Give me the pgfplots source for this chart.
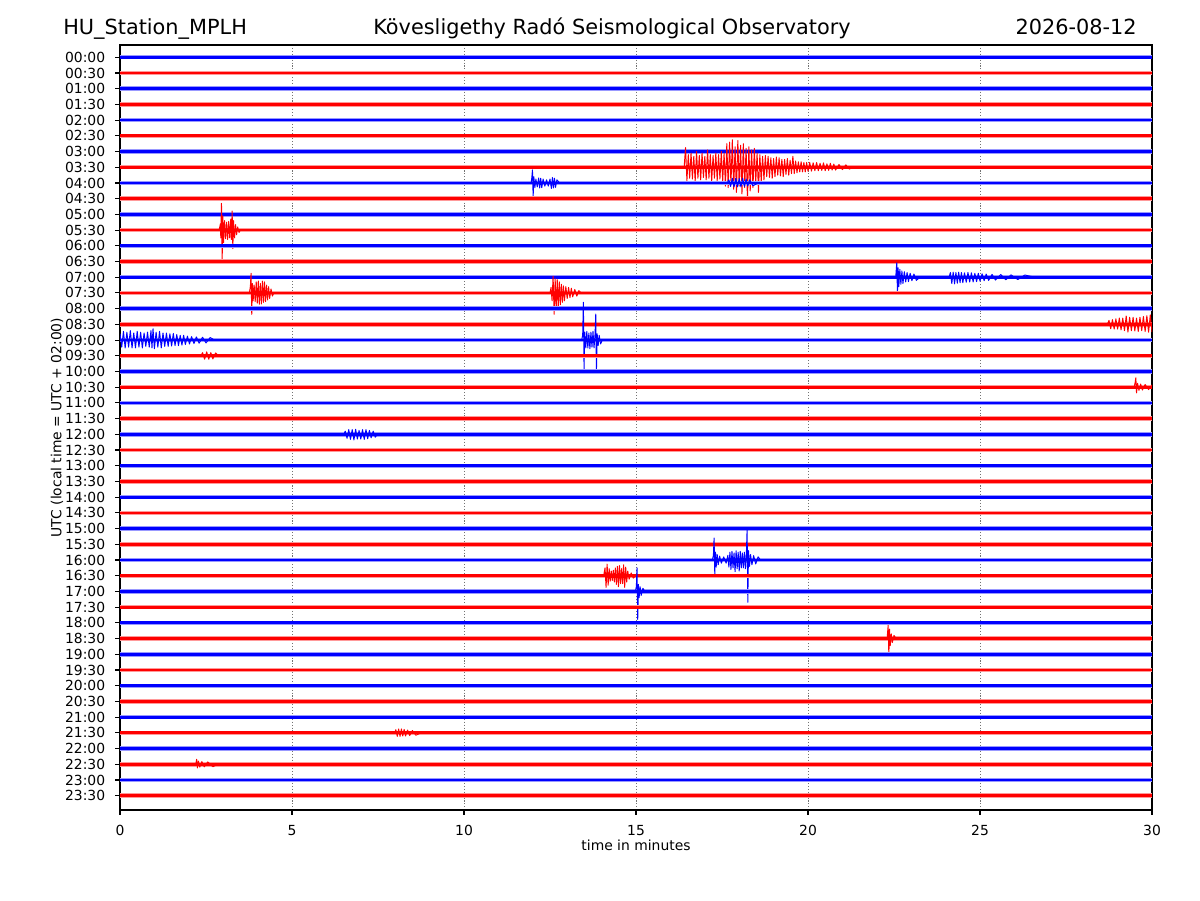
\documentclass[border=0pt]{standalone}
\usepackage{fontspec}
\setmainfont{DejaVu Sans}
\usepackage{pgfplots}
\pgfplotsset{compat=1.18}
\newcommand{\tk}{\fontsize{10}{12}\selectfont}
\newcommand{\h}[1]{\mbox{\tk #1}}
\newcommand{\ttl}{\fontsize{15}{18}\selectfont}
\pgfplotsset{
  blb/.style={blue, line width=2.0pt, preaction={draw=blue!40, line width=3.2pt}},
  blr/.style={red, line width=2.0pt, preaction={draw=red!40, line width=3.2pt}},
  ev/.style={line width=0.7pt, line join=round},
}
\begin{document}
\begin{tikzpicture}
\path[use as bounding box] (0,0) rectangle (864pt,648pt);
\node[anchor=base west, inner sep=0pt] at (45.36pt,622.8pt) {\ttl HU\_Station\_MPLH};
\node[anchor=base, inner sep=0pt] at (440.64pt,622.8pt) {\ttl Kövesligethy Radó Seismological Observatory};
\node[anchor=base east, inner sep=0pt] at (818.64pt,622.8pt) {\ttl 2026-08-12};
\begin{axis}[
  at={(86.4pt,64.8pt)}, anchor=south west,
  scale only axis, width=743.04pt, height=550.8pt,
  xmin=0, xmax=30, ymin=-0.78, ymax=47.91, y dir=reverse,
  xtick={0,5,10,15,20,25,30},
  xticklabels={\h{0},\h{5},\h{10},\h{15},\h{20},\h{25},\h{30}},
  ytick={0,...,47},
  yticklabels={\h{00:00},\h{00:30},\h{01:00},\h{01:30},\h{02:00},\h{02:30},\h{03:00},\h{03:30},\h{04:00},\h{04:30},\h{05:00},\h{05:30},\h{06:00},\h{06:30},\h{07:00},\h{07:30},\h{08:00},\h{08:30},\h{09:00},\h{09:30},\h{10:00},\h{10:30},\h{11:00},\h{11:30},\h{12:00},\h{12:30},\h{13:00},\h{13:30},\h{14:00},\h{14:30},\h{15:00},\h{15:30},\h{16:00},\h{16:30},\h{17:00},\h{17:30},\h{18:00},\h{18:30},\h{19:00},\h{19:30},\h{20:00},\h{20:30},\h{21:00},\h{21:30},\h{22:00},\h{22:30},\h{23:00},\h{23:30}},
  tick align=outside, major tick length=3.5pt,
  every tick/.style={black, line width=0.8pt},
  xtick pos=left, ytick pos=left,
  axis line style={line width=0.8pt},
  xmajorgrids,
  major grid style={black!55, line width=0.6pt, dash pattern=on 0.8pt off 1.3pt},
  /pgf/number format/assume math mode=true,
  tick label style={font=\tk, inner sep=0pt},
  xticklabel style={anchor=north, yshift=-7.3pt},
  yticklabel style={anchor=east, xshift=-7pt},
  xlabel={time in minutes},
  ylabel={UTC (local time = UTC + 02:00)},
  label style={font=\tk, inner sep=0pt},
  xlabel style={at={(axis description cs:0.5,0)}, anchor=north, yshift=-21pt},
  ylabel style={at={(axis description cs:-0.0610,0.5)}, anchor=center},
  clip=true,
]
% row 0
\addplot[blb] coordinates {(0,0) (30,0)};
\addplot[blr] coordinates {(0,1) (30,1)};
\addplot[blb] coordinates {(0,2) (30,2)};
\addplot[blr] coordinates {(0,3) (30,3)};
\addplot[blb] coordinates {(0,4) (30,4)};
\addplot[blr] coordinates {(0,5) (30,5)};
\addplot[blb] coordinates {(0,6) (30,6)};
% row 7 (03:30) big event
\addplot[blr] coordinates {(0,7) (30,7)};
\addplot[red,ev] table[x=t, y expr=\thisrow{d}+7] {
t d
16.40 0
16.44 -1.25
16.48 0.85
16.52 -0.8
16.56 0.7
16.60 -0.9
16.64 0.75
16.68 -0.7
16.72 0.9
16.76 -1.0
16.80 0.7
16.84 -0.75
16.88 0.8
16.92 -0.9
16.96 0.65
17.00 -0.7
17.04 0.8
17.08 -1.1
17.12 0.7
17.16 -0.8
17.20 0.9
17.24 -0.75
17.28 0.7
17.32 -0.9
17.36 0.85
17.40 -0.8
17.44 0.75
17.48 -1.0
17.52 0.9
17.56 -0.9
17.60 1.2
17.64 -1.5
17.68 1.3
17.72 -1.6
17.76 1.1
17.80 -1.75
17.84 1.4
17.88 -1.3
17.92 1.6
17.96 -1.7
18.00 1.2
18.04 -1.4
18.08 1.7
18.12 -1.5
18.16 1.3
18.20 -1.2
18.24 2.05
18.28 -1.3
18.32 1.5
18.36 -1.1
18.40 1.3
18.44 -1.2
18.48 1.0
18.52 -0.9
18.56 1.6
18.60 -0.8
18.64 0.9
18.68 -0.7
18.72 0.8
18.76 -0.75
18.80 0.6
18.84 -0.7
18.88 0.65
18.92 -0.6
18.96 0.7
19.00 -0.55
19.04 0.6
19.08 -0.65
19.12 0.5
19.16 -0.6
19.20 0.55
19.24 -0.5
19.28 0.6
19.32 -0.5
19.36 0.45
19.40 -0.55
19.44 0.5
19.48 -0.45
19.52 0.4
19.56 -0.7
19.60 0.4
19.64 -0.4
19.68 0.35
19.72 -0.35
19.76 0.3
19.80 -0.35
19.84 0.3
19.88 -0.3
19.92 0.3
19.96 -0.3
20.00 0.25
20.05 -0.3
20.10 0.25
20.15 -0.28
20.20 0.22
20.25 -0.3
20.30 0.22
20.35 -0.25
20.40 0.2
20.45 -0.28
20.50 0.22
20.55 -0.22
20.60 0.2
20.65 -0.25
20.70 0.18
20.75 -0.2
20.80 0.18
20.90 -0.17
21.00 0.15
21.10 -0.15
21.20 0.12
21.30 0
};
% row 8 (04:00)
\addplot[blb] coordinates {(0,8) (30,8)};
\addplot[blue,ev] table[x=t, y expr=\thisrow{d}+8] {
t d
11.95 0
11.97 -0.3
11.99 -0.83
12.01 0.87
12.03 -0.4
12.06 0.3
12.09 -0.25
12.13 0.25
12.17 -0.32
12.20 0.32
12.23 -0.3
12.26 0.3
12.30 -0.25
12.35 0.2
12.40 -0.2
12.45 0.2
12.50 -0.25
12.54 0.35
12.57 -0.35
12.60 0.32
12.63 -0.3
12.66 0.28
12.70 -0.2
12.78 0
};
\addplot[blue,ev] table[x=t, y expr=\thisrow{d}+8] {
t d
17.65 0
17.70 -0.2
17.75 0.22
17.80 -0.3
17.85 0.25
17.90 -0.3
17.95 0.25
18.00 -0.28
18.05 0.25
18.10 -0.3
18.15 0.22
18.20 -0.25
18.25 0.2
18.30 -0.2
18.40 0.18
18.55 0
};
\addplot[blr] coordinates {(0,9) (30,9)};
\addplot[blb] coordinates {(0,10) (30,10)};
% row 11 (05:30)
\addplot[blr] coordinates {(0,11) (30,11)};
\addplot[red,ev] table[x=t, y expr=\thisrow{d}+11] {
t d
2.88 0
2.92 -0.4
2.93 0.5
2.95 -1.70
2.97 1.86
2.99 -0.9
3.01 0.8
3.04 -0.6
3.07 0.55
3.10 -0.5
3.13 0.6
3.16 -0.55
3.19 0.5
3.22 -0.7
3.24 0.6
3.26 -1.21
3.28 1.18
3.30 -0.6
3.33 0.5
3.36 -0.35
3.39 0.3
3.42 -0.2
3.46 0.15
3.50 0
};
\addplot[blb] coordinates {(0,12) (30,12)};
\addplot[blr] coordinates {(0,13) (30,13)};
% row 14 (07:00)
\addplot[blb] coordinates {(0,14) (30,14)};
\addplot[blue,ev] table[x=t, y expr=\thisrow{d}+14] {
t d
22.55 0
22.58 -0.91
22.60 0.95
22.62 -0.6
22.64 0.6
22.67 -0.5
22.70 0.45
22.73 -0.4
22.76 0.4
22.80 -0.35
22.84 0.3
22.88 -0.3
22.92 0.28
22.97 -0.25
23.02 0.22
23.08 -0.2
23.15 0.2
23.25 0
};
\addplot[blue,ev] table[x=t, y expr=\thisrow{d}+14] {
t d
24.10 0
24.14 -0.3
24.18 0.4
24.22 -0.32
24.26 0.42
24.30 -0.3
24.34 0.38
24.38 -0.32
24.42 0.35
24.46 -0.3
24.50 0.35
24.55 -0.28
24.60 0.32
24.65 -0.3
24.70 0.3
24.75 -0.28
24.80 0.3
24.85 -0.25
24.90 0.28
24.95 -0.25
25.00 0.25
25.06 -0.22
25.12 0.22
25.18 -0.2
25.25 0.2
25.35 -0.18
25.45 0.18
25.60 -0.17
25.75 0.16
25.90 -0.15
26.10 0.15
26.30 -0.14
26.60 0
};
% row 15 (07:30)
\addplot[blr] coordinates {(0,15) (30,15)};
\addplot[red,ev] table[x=t, y expr=\thisrow{d}+15] {
t d
3.76 0
3.79 -0.4
3.81 -1.25
3.83 1.36
3.85 -0.6
3.87 0.5
3.90 -0.5
3.93 0.55
3.96 -0.7
3.99 0.65
4.02 -0.76
4.05 0.72
4.08 -0.6
4.11 0.7
4.14 -0.75
4.17 0.6
4.20 -0.7
4.23 0.55
4.26 -0.5
4.29 0.45
4.32 -0.4
4.35 0.35
4.39 -0.25
4.43 0.2
4.47 0
};
\addplot[red,ev] table[x=t, y expr=\thisrow{d}+15] {
t d
12.50 0
12.53 -0.35
12.56 0.5
12.59 -1.06
12.62 1.36
12.65 -0.9
12.68 1.1
12.71 -0.85
12.74 0.9
12.77 -0.7
12.80 0.75
12.83 -0.55
12.86 0.6
12.89 -0.45
12.92 0.5
12.96 -0.4
13.00 0.35
13.04 -0.35
13.08 0.3
13.12 -0.3
13.16 0.25
13.22 -0.22
13.28 0.2
13.34 -0.15
13.40 0
};
\addplot[blb] coordinates {(0,16) (30,16)};
% row 17 (08:30)
\addplot[blr] coordinates {(0,17) (30,17)};
\addplot[red,ev] table[x=t, y expr=\thisrow{d}+17] {
t d
28.70 0
28.75 -0.25
28.80 0.28
28.85 -0.3
28.90 0.3
28.95 -0.35
29.00 0.3
29.05 -0.4
29.10 0.35
29.15 -0.4
29.20 0.4
29.25 -0.53
29.30 0.49
29.35 -0.45
29.40 0.4
29.45 -0.45
29.50 0.42
29.55 -0.4
29.60 0.45
29.65 -0.45
29.70 0.4
29.75 -0.5
29.80 0.45
29.85 -0.55
29.90 0.5
29.95 -0.6
30.00 0.5
};
% row 18 (09:00)
\addplot[blb] coordinates {(0,18) (30,18)};
\addplot[blue,ev] table[x=t, y expr=\thisrow{d}+18] {
t d
0.00 -0.4
0.05 0.45
0.10 -0.55
0.15 0.5
0.20 -0.5
0.25 0.45
0.30 -0.6
0.35 0.5
0.40 -0.45
0.45 0.5
0.50 -0.55
0.55 0.45
0.60 -0.5
0.65 0.5
0.70 -0.45
0.75 0.4
0.80 -0.5
0.85 0.45
0.90 -0.6
0.93 0.5
0.96 -0.72
1.00 0.55
1.05 -0.5
1.10 0.45
1.15 -0.55
1.20 0.5
1.25 -0.45
1.30 0.4
1.35 -0.45
1.40 0.4
1.45 -0.4
1.50 0.38
1.55 -0.42
1.60 0.35
1.65 -0.35
1.70 0.35
1.75 -0.3
1.80 0.32
1.85 -0.3
1.90 0.28
1.96 -0.25
2.02 0.25
2.08 -0.22
2.15 0.22
2.22 -0.2
2.30 0.2
2.40 -0.18
2.50 0.18
2.62 -0.16
2.75 0
};
\addplot[blue,ev] table[x=t, y expr=\thisrow{d}+18] {
t d
13.42 0
13.45 -0.3
13.47 -2.4
13.49 1.84
13.51 -0.5
13.54 0.5
13.57 -0.55
13.60 0.5
13.63 -0.45
13.66 0.55
13.69 -0.5
13.72 0.45
13.75 -0.55
13.78 0.5
13.81 -0.4
13.83 -1.65
13.85 1.97
13.87 -0.4
13.90 0.35
13.93 -0.3
13.97 0.25
14.02 0
};
% row 19 (09:30)
\addplot[blr] coordinates {(0,19) (30,19)};
\addplot[red,ev] table[x=t, y expr=\thisrow{d}+19] {
t d
2.35 0
2.40 -0.2
2.46 0.22
2.52 -0.25
2.58 0.22
2.64 -0.2
2.70 0.2
2.78 -0.18
2.86 0
};
\addplot[blb] coordinates {(0,20) (30,20)};
% row 21 (10:30)
\addplot[blr] coordinates {(0,21) (30,21)};
\addplot[red,ev] table[x=t, y expr=\thisrow{d}+21] {
t d
29.48 0
29.51 -0.3
29.53 -0.6
29.55 0.36
29.58 -0.25
29.62 0.2
29.67 -0.2
29.72 0.18
29.80 -0.17
29.90 0.15
30.00 -0.15
};
\addplot[blb] coordinates {(0,22) (30,22)};
\addplot[blr] coordinates {(0,23) (30,23)};
% row 24 (12:00)
\addplot[blb] coordinates {(0,24) (30,24)};
\addplot[blue,ev] table[x=t, y expr=\thisrow{d}+24] {
t d
6.50 0
6.55 -0.2
6.60 0.25
6.65 -0.3
6.70 0.32
6.75 -0.3
6.80 0.36
6.85 -0.32
6.90 0.3
6.95 -0.25
7.00 0.3
7.05 -0.3
7.10 0.32
7.15 -0.3
7.20 0.28
7.25 -0.25
7.30 0.22
7.36 -0.2
7.42 0.18
7.48 0
};
\addplot[blr] coordinates {(0,25) (30,25)};
\addplot[blb] coordinates {(0,26) (30,26)};
\addplot[blr] coordinates {(0,27) (30,27)};
\addplot[blb] coordinates {(0,28) (30,28)};
\addplot[blr] coordinates {(0,29) (30,29)};
\addplot[blb] coordinates {(0,30) (30,30)};
\addplot[blr] coordinates {(0,31) (30,31)};
% row 32 (16:00)
\addplot[blb] coordinates {(0,32) (30,32)};
\addplot[blue,ev] table[x=t, y expr=\thisrow{d}+32] {
t d
17.22 0
17.25 -0.3
17.27 -1.4
17.29 0.89
17.31 -0.5
17.33 0.45
17.36 -0.35
17.39 0.3
17.43 -0.25
17.48 0.2
17.55 -0.2
17.62 0.2
17.67 -0.3
17.70 0.45
17.73 -0.5
17.76 0.6
17.79 -0.55
17.82 0.5
17.85 -0.45
17.88 0.74
17.91 -0.59
17.94 0.55
17.97 -0.5
18.00 0.7
18.03 -0.55
18.06 0.5
18.09 -0.45
18.12 0.5
18.15 -0.5
18.18 0.55
18.21 -0.5
18.23 -1.97
18.25 2.69
18.27 -0.6
18.30 0.4
18.33 -0.35
18.37 0.3
18.42 -0.28
18.48 0.25
18.55 -0.2
18.62 0
};
% row 33 (16:30)
\addplot[blr] coordinates {(0,33) (30,33)};
\addplot[red,ev] table[x=t, y expr=\thisrow{d}+33] {
t d
14.06 0
14.10 -0.5
14.13 0.74
14.16 -0.74
14.19 0.6
14.22 -0.45
14.25 0.35
14.28 -0.3
14.31 0.3
14.34 -0.35
14.37 0.4
14.40 -0.5
14.43 0.55
14.46 -0.6
14.49 0.7
14.52 -0.65
14.55 0.5
14.58 -0.45
14.61 0.5
14.64 -0.7
14.67 0.74
14.70 -0.55
14.73 0.4
14.76 -0.3
14.80 0.22
14.86 -0.18
14.92 0.15
15.00 0
};
% row 34 (17:00)
\addplot[blb] coordinates {(0,34) (30,34)};
\addplot[blue,ev] table[x=t, y expr=\thisrow{d}+34] {
t d
14.98 0
15.01 -0.3
15.03 -1.5
15.05 1.78
15.07 -0.45
15.09 0.4
15.12 -0.3
15.15 0.25
15.20 -0.2
15.26 0
};
\addplot[blr] coordinates {(0,35) (30,35)};
\addplot[blb] coordinates {(0,36) (30,36)};
% row 37 (18:30)
\addplot[blr] coordinates {(0,37) (30,37)};
\addplot[red,ev] table[x=t, y expr=\thisrow{d}+37] {
t d
22.30 0
22.33 -0.85
22.35 1.05
22.37 -0.6
22.39 0.45
22.42 -0.3
22.45 0.25
22.50 -0.2
22.56 0
};
\addplot[blb] coordinates {(0,38) (30,38)};
\addplot[blr] coordinates {(0,39) (30,39)};
\addplot[blb] coordinates {(0,40) (30,40)};
\addplot[blr] coordinates {(0,41) (30,41)};
\addplot[blb] coordinates {(0,42) (30,42)};
% row 43 (21:30)
\addplot[blr] coordinates {(0,43) (30,43)};
\addplot[red,ev] table[x=t, y expr=\thisrow{d}+43] {
t d
7.98 0
8.02 -0.2
8.06 0.22
8.10 -0.25
8.14 0.22
8.18 -0.25
8.22 0.2
8.26 -0.22
8.30 0.2
8.36 -0.18
8.42 0.17
8.50 -0.15
8.60 0.15
8.75 0
};
\addplot[blb] coordinates {(0,44) (30,44)};
% row 45 (22:30)
\addplot[blr] coordinates {(0,45) (30,45)};
\addplot[red,ev] table[x=t, y expr=\thisrow{d}+45] {
t d
2.20 0
2.23 -0.32
2.25 0.23
2.28 -0.2
2.32 0.18
2.38 -0.17
2.45 0.16
2.55 -0.15
2.70 0.15
2.85 0
};
\addplot[blb] coordinates {(0,46) (30,46)};
\addplot[blr] coordinates {(0,47) (30,47)};
\end{axis}
\end{tikzpicture}
\end{document}
